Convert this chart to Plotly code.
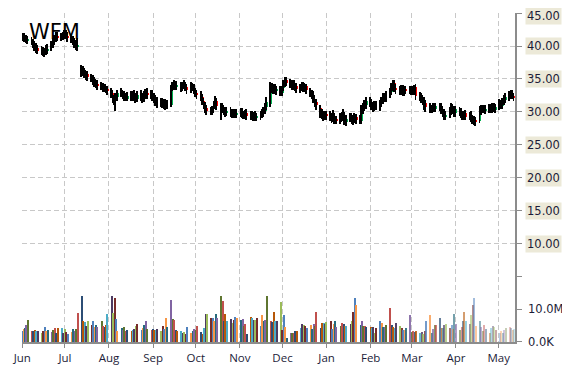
import pandas as pd
import plotly.graph_objects as go

# ---------------- data ----------------
start_date = "2015-06-01"
end_date = "2016-05-12"

closes = [
    41.3, 41.5, 41.1, 40.9, 41.0,
    40.6, 40.2, 39.9, 39.6, 39.4,
    39.3, 39.0, 39.2, 39.5, 39.6,
    40.3, 40.8, 41.2, 41.5, 41.3,
    41.4, 41.7, 41.9, 41.5, 41.2,
    41.0, 40.6, 40.3, 39.9, 40.2,
    36.3, 36.0, 35.8, 35.5, 35.3,
    35.0, 34.7, 34.4, 34.2, 34.0,
    33.9, 33.6, 33.8, 33.4, 33.2,
    32.7, 32.0, 31.8, 32.4, 32.8,
    32.8, 32.5, 32.3, 32.2, 32.4,
    32.3, 32.6, 32.2, 32.0, 32.5,
    32.2, 32.0, 32.6, 32.8, 32.5,
    32.7, 32.2, 32.0, 31.6, 31.3,
    31.5, 31.2, 31.4, 31.0, 31.3,
    33.8, 34.0, 34.2, 33.8, 34.1,
    33.6, 34.0, 34.2, 33.7, 33.4,
    33.9, 33.6, 33.2, 32.8, 32.6,
    32.3, 31.6, 31.0, 30.5, 30.2,
    30.1, 30.4, 31.0, 31.5, 30.9,
    30.8, 30.5, 30.1, 29.9, 30.2,
    29.8, 29.6, 29.9, 29.7, 29.9,
    30.0, 29.6, 29.5, 29.8, 29.4,
    29.6, 29.3, 29.5, 29.2, 29.4,
    29.6, 29.9, 30.3, 30.9, 31.5,
    33.8, 33.4, 33.6, 33.2, 33.5,
    33.0, 33.5, 34.4, 34.7, 34.5,
    34.2, 34.0, 34.3, 33.8, 33.5,
    33.8, 34.0, 33.6, 33.9, 33.4,
    32.8, 32.5, 32.0, 31.4, 31.0,
    29.8, 29.5, 29.3, 29.6, 29.4,
    29.2, 28.9, 29.5, 28.8, 28.7,
    29.3, 29.0, 29.6, 28.6, 28.9,
    29.2, 28.7, 28.9, 29.3, 28.8,
    29.0, 30.4, 30.8, 31.2, 31.6,
    31.3, 30.9, 30.7, 31.1, 31.0,
    31.2, 31.8, 32.3, 32.1, 32.6,
    33.0, 33.8, 34.3, 33.5, 33.4,
    33.2, 33.6, 33.0, 33.4, 33.3,
    33.2, 33.4, 33.0, 33.6, 32.4,
    32.3, 32.0, 31.7, 31.2, 30.8,
    30.5, 30.4, 30.8, 30.6, 30.9,
    30.7, 30.3, 29.8, 29.4, 29.6,
    30.2, 30.6, 30.3, 30.0, 30.4,
    30.0, 29.6, 29.4, 29.7, 29.3,
    29.5, 29.0, 28.8, 28.6, 28.5,
    30.2, 30.4, 30.6, 30.3, 30.5,
    30.6, 30.4, 30.8, 30.5, 30.7,
    31.2, 31.0, 31.6, 31.9, 32.3,
    32.6, 32.8, 32.4, 32.2,
]

opens = [
    41.6, 41.2, 41.6, 41.2, 40.8,
    40.9, 40.7, 40.1, 39.9, 39.7,
    39.5, 39.4, 38.9, 39.1, 39.3,
    39.7, 40.2, 40.7, 41.1, 41.6,
    41.2, 41.4, 41.6, 41.9, 41.6,
    41.3, 41.1, 40.7, 40.4, 39.8,
    36.6, 36.4, 35.9, 35.9, 35.7,
    35.3, 35.1, 34.8, 34.5, 34.3,
    34.1, 33.9, 33.5, 33.8, 33.5,
    33.2, 32.8, 32.1, 31.6, 32.3,
    32.9, 32.9, 32.6, 32.4, 32.1,
    32.5, 32.2, 32.7, 32.3, 32.0,
    32.6, 32.3, 32.0, 32.5, 32.9,
    32.4, 32.8, 32.3, 32.0, 31.7,
    31.2, 31.6, 31.1, 31.4, 31.0,
    31.1, 33.7, 33.9, 34.3, 33.8,
    34.0, 33.6, 34.0, 34.2, 33.8,
    33.5, 33.9, 33.7, 33.2, 32.9,
    32.6, 32.2, 31.6, 31.0, 30.6,
    30.3, 30.1, 30.4, 31.0, 31.6,
    30.0, 30.8, 30.5, 30.1, 29.9,
    30.2, 29.9, 29.6, 30.0, 29.6,
    29.8, 30.1, 29.7, 29.4, 29.9,
    29.3, 29.7, 29.2, 29.5, 29.1,
    29.4, 29.5, 29.9, 30.2, 30.8,
    31.2, 33.8, 33.3, 33.7, 33.1,
    33.4, 32.9, 33.6, 34.3, 34.8,
    34.5, 34.3, 33.9, 34.4, 33.9,
    33.5, 33.7, 34.1, 33.6, 33.9,
    33.2, 32.9, 32.6, 32.0, 31.5,
    30.6, 29.9, 29.6, 29.2, 29.7,
    29.5, 29.3, 29.0, 29.4, 28.9,
    28.8, 29.4, 29.1, 29.5, 28.5,
    29.0, 29.3, 28.6, 28.9, 29.2,
    28.8, 28.6, 30.3, 30.7, 31.1,
    31.6, 31.4, 30.9, 30.6, 31.2,
    30.9, 31.3, 31.7, 32.4, 32.0,
    32.7, 33.0, 33.7, 34.4, 33.6,
    33.5, 33.1, 33.7, 32.9, 33.5,
    33.4, 33.1, 33.5, 33.1, 33.8,
    32.5, 32.4, 32.1, 31.8, 31.3,
    30.9, 30.6, 30.3, 30.9, 30.5,
    30.9, 30.8, 30.4, 29.9, 29.3,
    29.6, 30.1, 30.7, 30.4, 29.9,
    30.3, 30.1, 29.7, 29.3, 29.8,
    29.2, 29.6, 29.1, 28.9, 28.7,
    28.6, 30.1, 30.3, 30.7, 30.2,
    30.4, 30.7, 30.3, 30.9, 30.4,
    30.8, 31.3, 30.9, 31.5, 31.8,
    32.2, 32.5, 32.9, 32.3,
]

highs = [
    42.1, 42.0, 42.0, 41.7, 41.5,
    41.4, 41.1, 40.7, 40.4, 40.2,
    40.0, 39.9, 39.7, 40.1, 40.3,
    40.8, 41.3, 41.7, 42.1, 42.1,
    42.0, 42.2, 42.4, 42.4, 42.1,
    41.8, 41.6, 41.2, 40.9, 41.2,
    37.1, 36.9, 36.6, 36.4, 36.2,
    35.8, 35.6, 35.3, 35.0, 34.8,
    34.6, 34.4, 34.3, 34.3, 34.0,
    33.7, 33.3, 32.6, 32.9, 33.4,
    33.6, 33.4, 33.1, 32.9, 33.0,
    33.1, 33.2, 33.3, 32.8, 33.1,
    33.3, 32.8, 33.1, 33.5, 33.6,
    33.3, 33.3, 32.8, 32.5, 32.2,
    32.1, 32.1, 31.9, 31.9, 31.8,
    34.1, 34.6, 34.8, 34.7, 34.7,
    34.5, 34.6, 34.8, 34.6, 34.3,
    34.5, 34.4, 34.2, 33.7, 33.4,
    33.1, 32.7, 32.1, 31.5, 31.1,
    30.8, 30.9, 31.6, 32.4, 32.1,
    31.4, 31.3, 31.0, 30.7, 30.7,
    30.7, 30.4, 30.4, 30.5, 30.4,
    30.6, 30.6, 30.2, 30.3, 30.4,
    30.1, 30.2, 30.0, 30.1, 29.9,
    30.2, 30.4, 30.8, 31.4, 32.2,
    34.6, 34.4, 34.2, 34.3, 34.0,
    33.9, 34.0, 34.9, 35.3, 35.3,
    35.0, 34.8, 34.9, 34.9, 34.4,
    34.3, 34.6, 34.5, 34.4, 34.3,
    33.7, 33.4, 33.1, 32.5, 32.0,
    31.1, 30.4, 30.1, 30.1, 30.2,
    30.1, 29.9, 30.3, 29.9, 29.4,
    29.9, 30.0, 30.4, 30.0, 29.5,
    29.9, 29.8, 29.5, 29.9, 29.7,
    29.6, 31.0, 31.4, 31.8, 32.2,
    32.2, 31.9, 31.5, 31.7, 31.7,
    31.8, 32.3, 32.8, 32.9, 33.2,
    33.6, 34.4, 34.9, 34.9, 34.2,
    34.0, 34.1, 34.1, 33.9, 33.9,
    33.9, 33.9, 34.0, 34.1, 34.3,
    33.0, 32.9, 32.6, 32.3, 31.8,
    31.3, 31.1, 31.3, 31.3, 31.4,
    31.4, 31.3, 30.9, 30.4, 30.1,
    30.7, 31.3, 31.2, 30.9, 30.9,
    30.8, 30.6, 30.2, 30.2, 30.3,
    30.0, 30.1, 29.6, 29.4, 29.2,
    30.9, 31.0, 31.1, 31.1, 31.0,
    31.2, 31.2, 31.3, 31.3, 31.2,
    32.0, 31.8, 32.1, 32.5, 32.9,
    33.1, 33.3, 33.3, 32.8,
]

lows = [
    40.8, 40.7, 40.6, 40.4, 40.3,
    40.1, 39.7, 39.3, 39.0, 38.8,
    38.7, 38.5, 38.4, 38.6, 38.8,
    39.2, 39.7, 40.2, 40.6, 40.8,
    40.7, 40.9, 41.1, 41.0, 40.6,
    40.5, 40.1, 39.7, 39.4, 39.2,
    35.3, 35.4, 35.1, 34.9, 34.7,
    34.5, 34.1, 33.8, 33.6, 33.4,
    33.3, 33.0, 33.0, 32.8, 32.6,
    32.1, 31.3, 31.0, 30.2, 31.7,
    32.2, 31.9, 31.7, 31.6, 31.6,
    31.7, 31.7, 31.6, 31.4, 31.5,
    31.6, 31.4, 31.5, 32.0, 31.9,
    31.9, 31.7, 31.4, 30.9, 30.6,
    30.7, 30.6, 30.5, 30.3, 30.4,
    30.7, 33.2, 33.4, 33.3, 33.3,
    33.0, 33.1, 33.5, 33.1, 32.7,
    32.9, 33.1, 32.7, 32.2, 32.0,
    31.7, 31.1, 30.4, 29.9, 29.6,
    29.5, 29.6, 29.9, 30.5, 30.3,
    28.8, 29.9, 29.5, 29.3, 29.4,
    29.2, 29.0, 29.1, 29.1, 29.1,
    29.2, 29.1, 28.9, 28.9, 28.8,
    28.7, 28.7, 28.6, 28.6, 28.6,
    28.8, 29.0, 29.3, 29.7, 30.3,
    30.7, 32.8, 32.7, 32.7, 32.6,
    32.4, 32.4, 33.1, 33.8, 33.9,
    33.7, 33.4, 33.4, 33.2, 32.8,
    32.9, 33.2, 33.0, 33.0, 32.7,
    32.2, 31.9, 31.4, 30.7, 30.3,
    29.1, 28.9, 28.6, 28.7, 28.8,
    28.6, 28.3, 28.5, 28.2, 28.1,
    28.2, 28.4, 28.6, 28.0, 27.9,
    28.4, 28.1, 28.0, 28.3, 28.1,
    28.1, 28.2, 29.7, 30.1, 30.5,
    30.7, 30.3, 30.0, 30.1, 30.3,
    30.2, 30.7, 31.2, 31.5, 31.5,
    32.1, 32.5, 33.2, 33.0, 32.7,
    32.6, 32.6, 32.4, 32.4, 32.7,
    32.7, 32.6, 32.5, 32.6, 31.8,
    31.7, 31.4, 31.1, 30.3, 30.0,
    29.9, 29.8, 29.8, 30.0, 30.0,
    30.1, 29.7, 29.2, 28.8, 28.8,
    29.1, 29.6, 29.7, 29.3, 29.3,
    29.4, 29.0, 28.8, 28.8, 28.7,
    28.7, 28.4, 28.2, 28.0, 27.9,
    28.3, 29.6, 29.8, 29.8, 29.7,
    29.9, 29.9, 29.8, 30.0, 29.9,
    30.3, 30.5, 30.4, 31.0, 31.3,
    31.7, 32.0, 31.9, 31.6,
]

volumes_m = [
    3.5, 4.0, 4.5, 5.3, 6.8,
    3.6, 3.5, 3.8, 3.4, 3.6,
    2.8, 3.5, 4.8, 3.6, 3.9,
    3.1, 3.8, 4.3, 3.0, 4.4,
    4.4, 2.8, 4.2, 3.3, 2.5,
    3.2, 4.1, 3.5, 4.0, 9.1,
    14.1, 6.5, 6.2, 5.0, 6.4,
    5.4, 6.4, 4.8, 5.2, 4.6,
    6.4, 5.0, 4.7, 5.2, 8.8,
    14.2, 9.1, 13.6, 7.1, 3.5,
    4.5, 3.8, 4.6, 3.6, 3.7,
    3.5, 3.7, 4.0, 4.9, 5.6,
    3.9, 4.4, 5.2, 6.4, 4.0,
    3.8, 4.2, 3.7, 3.9, 4.0,
    3.6, 4.9, 4.2, 7.6, 4.6,
    13.1, 7.1, 6.8, 3.7, 3.6,
    3.5, 2.8, 3.2, 2.5, 4.7,
    2.9, 3.6, 4.2, 3.7, 5.0,
    3.3, 2.6, 4.3, 8.8, 8.8,
    7.4, 7.4, 6.6, 8.6, 7.4,
    14.1, 12.8, 6.5, 8.6, 6.6,
    7.1, 6.0, 6.8, 7.8, 7.6,
    6.8, 7.2, 5.1, 5.6, 2.6,
    7.8, 7.6, 6.9, 6.7, 7.4,
    5.1, 8.5, 6.6, 6.9, 14.3,
    6.6, 6.3, 9.2, 6.5, 6.5,
    12.3, 3.9, 8.3, 4.8, 1.4,
    2.8, 3.0, 2.9, 3.4, 3.4,
    4.3, 5.5, 5.4, 4.9, 4.5,
    5.4, 4.2, 5.5, 5.1, 9.3,
    4.5, 5.8, 6.0, 5.5, 6.2,
    6.6, 4.2, 5.5, 6.6, 4.8,
    5.0, 6.0, 5.7, 4.9, 5.1,
    5.7, 6.4, 9.3, 13.7, 11.5,
    5.3, 6.4, 5.0, 5.1, 4.6,
    4.6, 4.4, 4.7, 2.8, 4.3,
    6.6, 6.0, 4.6, 4.7, 5.3,
    10.5, 5.3, 4.6, 4.3, 5.9,
    4.9, 4.4, 3.8, 3.7, 4.5,
    8.5, 3.3, 3.5, 3.2, 3.6,
    2.9, 3.1, 2.6, 3.6, 6.5,
    8.3, 3.0, 4.1, 5.2, 5.3,
    7.6, 4.3, 4.5, 5.2, 5.5,
    4.5, 5.2, 4.0, 8.6, 5.7,
    3.8, 4.6, 6.4, 9.3, 6.5,
    5.5, 8.5, 11.5, 13.7, 5.0,
    6.4, 4.8, 3.6, 5.4, 4.0,
    2.8, 4.3, 4.9, 4.7, 3.8,
    3.0, 3.5, 2.8, 3.9, 4.5,
    4.6, 4.4, 3.8, 4.1,
]

price_ticks = [45, 40, 35, 30, 25, 20, 15, 10]
price_tick_labels = ["45.00", "40.00", "35.00", "30.00", "25.00", "20.00", "15.00", "10.00"]
volume_ticks = [0, 10e6]
volume_tick_labels = ["0.0K", "10.0M"]
ticker = "WFM"

# ---------------- figure ----------------
dates = pd.bdate_range(start_date, end_date)
n = min(len(dates), len(closes), len(opens), len(highs), len(lows), len(volumes_m))
dates = dates[:n]
o, h, l, c = opens[:n], highs[:n], lows[:n], closes[:n]
volumes = [v * 1e6 for v in volumes_m[:n]]

DAY = 86400000
palette = ["#4f81bd", "#c0504d", "#9bbb59", "#8064a2", "#4bacc6", "#f79646",
           "#2c4d75", "#772c2a", "#5f7530", "#4d3b62", "#276a7c", "#b65708"]
bar_colors = [palette[(i * 5) % len(palette)] for i in range(n)]
fade_start = 185
bar_opac = [1.0 if i < fade_start else max(0.3, 1.0 - 0.7 * (i - fade_start) / (n - fade_start)) for i in range(n)]

body_base = [min(a, b) for a, b in zip(o, c)]
body_len = [max(abs(b - a), 0.15) for a, b in zip(o, c)]
body_col = ["#00b050" if b >= a else "#ff0000" for a, b in zip(o, c)]
wick_len = [hi - lo for hi, lo in zip(h, l)]

fig = go.Figure()
fig.add_trace(go.Bar(
    x=dates, y=volumes, yaxis="y2",
    marker=dict(color=bar_colors, opacity=bar_opac, line=dict(width=0)),
    width=DAY * 0.9, showlegend=False, hoverinfo="skip",
))
fig.add_trace(go.Bar(
    x=dates, y=body_len, base=body_base, yaxis="y",
    marker=dict(color=body_col, line=dict(width=0)),
    width=DAY * 1.6, showlegend=False, hoverinfo="skip",
))
fig.add_trace(go.Bar(
    x=dates, y=wick_len, base=l, yaxis="y",
    marker=dict(color="black", line=dict(width=0)),
    width=DAY * 0.6, offset=-DAY * 0.8, showlegend=False, hoverinfo="skip",
))

# the page keeps the browser's default 8px body margin; compensate in the figure margins
W, H = 562, 362
BODY = 8
L, R, T, B = 21 - BODY, 55, 13 - BODY, 25
ph = H - T - B
split = 66 / ph
grid = "#c8c8c8"
axis_col = "#8c8c8c"
label_font = dict(family="DejaVu Sans", size=11.5, color="#1c1c38")

fig.update_layout(
    width=W, height=H, margin=dict(l=L, r=R, t=T, b=B),
    paper_bgcolor="white", plot_bgcolor="white",
    barmode="overlay", bargap=0,
    xaxis=dict(
        type="date", range=["2015-05-31 20:00", "2016-05-12 12:00"],
        anchor="y2",
        tick0="2015-06-01", dtick="M1", tickformat="%b",
        showgrid=True, gridcolor=grid, griddash="5px,3px", gridwidth=1,
        showline=True, linecolor=axis_col, linewidth=2,
        ticks="outside", ticklen=4, tickcolor=axis_col,
        tickfont=dict(family="Open Sans", size=11.5, color="#1c1c38"),
        zeroline=False,
    ),
    yaxis=dict(
        domain=[split, 1], range=[4.99, 45.02], side="right", anchor="x",
        tickvals=[5] + price_ticks, showticklabels=False,
        ticks="outside", ticklen=5, tickcolor=axis_col,
        showgrid=True, gridcolor=grid, griddash="5px,3px", gridwidth=1,
        showline=True, linecolor=axis_col, linewidth=2, zeroline=False,
    ),
    yaxis2=dict(
        domain=[0, split], range=[0, 20e6], side="right", anchor="x",
        tickvals=volume_ticks, showticklabels=False,
        ticks="outside", ticklen=5, tickcolor=axis_col,
        showgrid=False, showline=True, linecolor=axis_col, linewidth=2, zeroline=False,
    ),
)

annotations = []
for v, t in zip(price_ticks, price_tick_labels):
    annotations.append(dict(
        x=1, xref="paper", xanchor="left", xshift=10, y=v, yref="y", yanchor="middle",
        yshift=-3 if v == 45 else 0,
        text=t, showarrow=False, font=label_font, bgcolor="#ece9d8", borderpad=1,
    ))
for v, t in zip(volume_ticks, volume_tick_labels):
    annotations.append(dict(
        x=1, xref="paper", xanchor="left", xshift=11, y=v, yref="y2", yanchor="middle",
        text=t, showarrow=False, font=label_font, borderpad=1,
    ))
annotations.append(dict(
    x=0, xref="paper", xanchor="left", xshift=5, y=1 - (32.5 - 13) / ph, yref="paper", yanchor="middle",
    text=ticker, showarrow=False, font=dict(family="DejaVu Sans", size=21, color="black"),
))
fig.update_layout(annotations=annotations)

fig.write_html("out.html", config={"displayModeBar": False})
